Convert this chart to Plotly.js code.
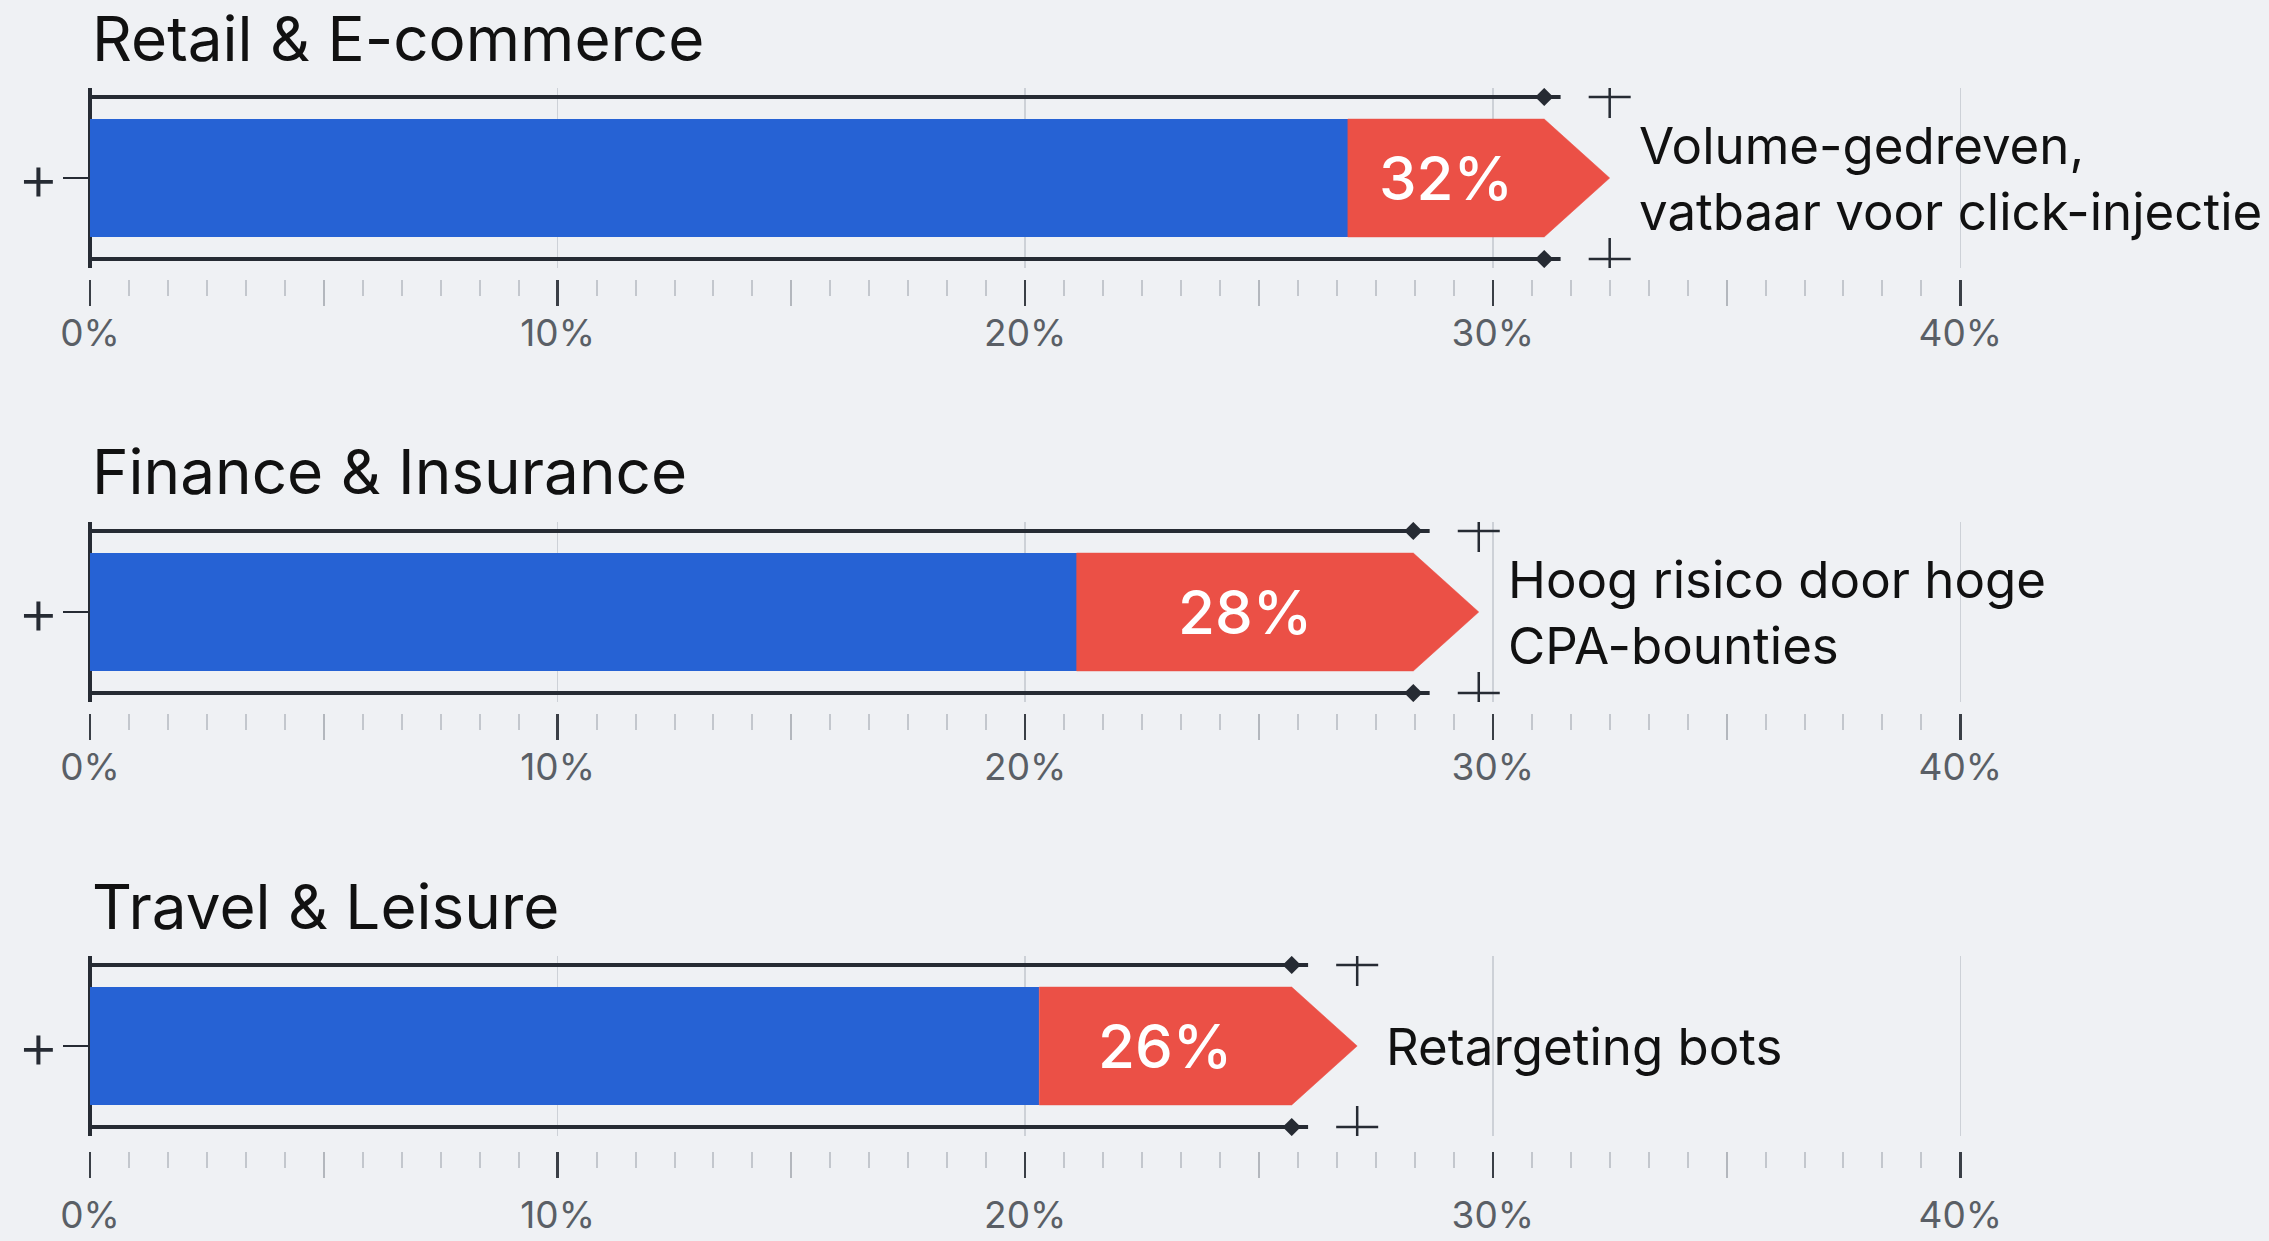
<!DOCTYPE html>
<html>
<head>
<meta charset="utf-8">
<script src="https://cdn.plot.ly/plotly-3.0.1.min.js"></script>
<style>
  html, body { margin: 0; padding: 0; background: #eff1f4; }
  #chart { width: 2269px; height: 1241px; }
</style>
</head>
<body>
<div id="chart"></div>
<script>
// ---------------- DATA ----------------
const categories = ['Retail & E-commerce', 'Finance & Insurance', 'Travel & Leisure'];
const shareLabels = [32, 28, 26];            // printed share (%)
const blueValues  = [26.9, 21.1, 20.3];      // blue segment end (%)
const redEnds     = [31.1, 28.3, 25.7];      // red segment end / whisker end (%)
const notes = [
  'Volume-gedreven,<br>vatbaar voor click-injectie',
  'Hoog risico door hoge<br>CPA-bounties',
  'Retargeting bots'
];
const tickValues = [0, 10, 20, 30, 40];
const tickLabels = ['0%', '10%', '20%', '30%', '40%'];
const midTickValues = [5, 15, 25, 35];

// ---------------- STYLE / LAYOUT CONSTANTS ----------------
const W = 2269, H = 1241;
const X0 = 90;                 // px of 0%
const XMAX = 46.6;             // axis range end (%)
const panelTop = [88, 522, 956];
const panelH = 180;
const axisPos = [279, 713, 1151];
const titleY = [38, 472, 906];
const labelStandoff = [-4, -4, 6];
const arrowHead = 1.4;         // arrow head length in %
const whiskerExt = 0.35;
const barW = 1.31;             // bar thickness (y units)
const lineY = 0.9;             // whisker y offset
const BLUE = '#2662d4', RED = '#eb5046', INK = '#262b33';
const FONT = 'Inter, "Noto Sans", sans-serif';
const py = p => 1 - p / H;

// minor tick positions: 12 subdivisions per 10% up to the last labelled tick
const minorTicks = [];
for (let k = 0; k <= 48; k++) minorTicks.push(k * 10 / 12);

const traces = [];
const layout = {
  width: W, height: H,
  margin: {l: 0, r: 0, t: 0, b: 0},
  paper_bgcolor: '#eff1f4',
  plot_bgcolor: 'rgba(0,0,0,0)',
  showlegend: false,
  font: {family: FONT, color: '#111'},
  annotations: [],
  bargap: 0
};

categories.forEach((cat, i) => {
  const n = i + 1;
  const xa = 'x' + n, ya = 'y' + n;
  const xo = 'x' + (n + 3);
  const xKey = 'xaxis' + n, yKey = 'yaxis' + n, xoKey = 'xaxis' + (n + 3);
  const tip = redEnds[i] + arrowHead;

  // whisker lines
  traces.push({
    type: 'scatter', mode: 'lines', xaxis: xa, yaxis: ya, hoverinfo: 'skip',
    x: [0, redEnds[i] + whiskerExt, null, 0, redEnds[i] + whiskerExt],
    y: [lineY, lineY, null, -lineY, -lineY],
    line: {color: INK, width: 4}
  });
  // blue bar
  traces.push({
    type: 'bar', orientation: 'h', xaxis: xa, yaxis: ya, hoverinfo: 'skip',
    x: [blueValues[i]], y: [0], base: 0, width: barW,
    marker: {color: BLUE, line: {width: 0}}
  });
  // red arrow segment
  traces.push({
    type: 'scatter', mode: 'lines', fill: 'toself', xaxis: xa, yaxis: ya, hoverinfo: 'skip',
    x: [blueValues[i], redEnds[i], tip, redEnds[i], blueValues[i], blueValues[i]],
    y: [-barW / 2, -barW / 2, 0, barW / 2, barW / 2, -barW / 2],
    fillcolor: RED, line: {color: RED, width: 0.5}
  });
  // diamonds at whisker ends
  traces.push({
    type: 'scatter', mode: 'markers', xaxis: xa, yaxis: ya, hoverinfo: 'skip',
    x: [redEnds[i], redEnds[i]], y: [lineY, -lineY],
    marker: {symbol: 'diamond', size: 14, color: INK}
  });
  // plus markers at tip
  traces.push({
    type: 'scatter', mode: 'markers', xaxis: xa, yaxis: ya, hoverinfo: 'skip',
    x: [tip, tip], y: [lineY, -lineY],
    marker: {symbol: 'cross-thin', size: 30, line: {color: INK, width: 2.5}}
  });
  // invisible trace to activate overlay axis (mid ticks)
  traces.push({
    type: 'scatter', mode: 'markers', xaxis: xo, yaxis: ya, hoverinfo: 'skip',
    x: [0], y: [0], marker: {opacity: 0}
  });

  const dom = [py(panelTop[i] + panelH), py(panelTop[i])];
  layout[xKey] = {
    domain: [X0 / W, 1], range: [0, XMAX], anchor: 'free', position: py(axisPos[i]),
    tickvals: tickValues, ticktext: tickLabels,
    ticks: 'outside', ticklen: 26, tickwidth: 2.5, tickcolor: '#3a3f46',
    tickfont: {size: 37, color: '#5a5f66', family: FONT},
    showgrid: true, gridcolor: '#cdd1d7', gridwidth: 1.5,
    zeroline: true, zerolinecolor: INK, zerolinewidth: 3.5,
    showline: false, fixedrange: true,
    ticklabelstandoff: labelStandoff[i],
    minor: {tickvals: minorTicks, ticks: 'outside', ticklen: 16, tickwidth: 2, tickcolor: '#c3c7cd', showgrid: false}
  };
  layout[xoKey] = {
    overlaying: xa, range: [0, XMAX], anchor: 'free', position: py(axisPos[i]),
    tickvals: midTickValues, ticks: 'outside', ticklen: 26, tickwidth: 2, tickcolor: '#b3b7bd',
    showticklabels: false, showgrid: false, zeroline: false, showline: false, fixedrange: true
  };
  layout[yKey] = {
    domain: dom, range: [-1, 1], anchor: xa,
    tickvals: [0], ticktext: ['+'], ticks: 'outside', ticklen: 26, tickwidth: 2.5, tickcolor: INK,
    tickfont: {size: 64, color: INK, family: FONT, weight: 300}, ticklabelstandoff: -9,
    showgrid: false, zeroline: false, showline: false, fixedrange: true
  };

  // panel title
  layout.annotations.push({
    xref: 'paper', yref: 'paper', x: X0 / W, y: py(titleY[i]),
    xanchor: 'left', yanchor: 'middle', showarrow: false,
    text: cat, font: {size: 62, color: '#111', family: FONT}
  });
  // share label in red segment
  layout.annotations.push({
    xref: xa, yref: ya, x: (blueValues[i] + redEnds[i]) / 2, y: 0,
    xanchor: 'center', yanchor: 'middle', showarrow: false,
    text: shareLabels[i] + '%', font: {size: 60, color: '#ffffff', family: FONT, weight: 500}
  });
  // note text
  layout.annotations.push({
    xref: xa, yref: ya, x: tip, y: 0, xshift: 27,
    xanchor: 'left', yanchor: 'middle', align: 'left', showarrow: false,
    text: notes[i], font: {size: 51, color: '#111', family: FONT}
  });
});

Plotly.newPlot('chart', traces, layout, {staticPlot: true, displayModeBar: false});
</script>
</body>
</html>
